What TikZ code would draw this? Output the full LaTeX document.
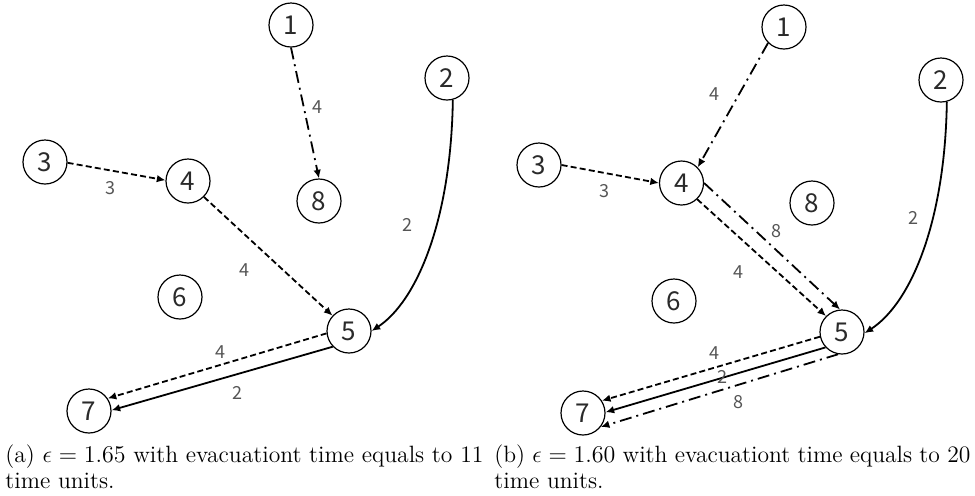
\documentclass[tikz,border=0pt]{standalone}
\usepackage{fontspec}
\newfontfamily\numfont{Noto Sans CJK SC}
\usetikzlibrary{arrows.meta}
\definecolor{nodetext}{HTML}{2A2A2A}
\definecolor{labtext}{HTML}{555555}
\tikzset{
  vtx/.style={circle,draw=black,line width=0.6pt,minimum size=22pt,inner sep=0pt,
    font=\numfont\fontsize{13}{14}\selectfont,text=nodetext},
  lab/.style={font=\numfont\fontsize{9}{10}\selectfont,text=labtext,inner sep=0pt},
  conn/.style={line width=0.9pt,-{Latex[length=4.3pt,width=3.8pt]}},
  dsh/.style={conn,dash pattern=on 3pt off 1.6pt},
  dshdot/.style={conn,dash pattern=on 6pt off 2.5pt on 1pt off 2.5pt},
  captext/.style={anchor=base west,inner sep=0pt,font=\fontsize{11.8}{13}\selectfont}
}
\begin{document}
\begin{tikzpicture}[x=0.5pt,y=-0.5pt]
\useasboundingbox (0,0) rectangle (975,495);
% ---------- panel (a) ----------
\node[vtx] (a1) at (291,25) {1};
\node[vtx] (a2) at (447,78) {2};
\node[vtx] (a3) at (45,162) {3};
\node[vtx] (a4) at (188,181) {4};
\node[vtx] (a8) at (319,201) {8};
\node[vtx] (a6) at (180,297) {6};
\node[vtx] (a5) at (349,331) {5};
\node[vtx] (a7) at (89,411) {7};
\draw[dshdot] (a1.-90) -- (a8.90);
\draw[dsh] (a3.-2) -- (a4.178);
\draw[dsh] (a4.-45) -- (a5.137);
\draw[conn] (a2.-75) .. controls (451,220) and (417,301) .. (a5.east);
\draw[dsh] (a5.186) -- (a7.34);
\draw[conn] (a5.224) -- (a7.2);
\node[lab] (la1) at (317,107) {4};
\node[lab] (la2) at (110,188) {3};
\node[lab] (la3) at (407,225) {2};
\node[lab] (la4) at (244,270) {4};
\node[lab] (la5) at (220,352) {4};
\node[lab] (la6) at (237,393) {2};
\node[captext] (capa1) at (5,462) {\makebox[239pt][s]{(a) $\epsilon = 1.65$ with evacuationt time equals to 11}};
\node[captext] (capa2) at (5,488) {time units.};
% ---------- panel (b) ----------
\node[vtx] (b1) at (784,27) {1};
\node[vtx] (b2) at (941,80) {2};
\node[vtx] (b3) at (539,165) {3};
\node[vtx] (b4) at (681.5,183) {4};
\node[vtx] (b8) at (812,203) {8};
\node[vtx] (b6) at (674,301) {6};
\node[vtx] (b5) at (842,332) {5};
\node[vtx] (b7) at (583,413) {7};
\draw[dshdot] (b1.225) -- (b4.44);
\draw[dsh] (b3.0) -- (b4.180);
\draw[dsh] (b4.-46) -- (b5.135);
\draw[dshdot] (b4.0) -- (b5.95);
\draw[conn] (b2.-75) .. controls (945,222) and (911,303) .. (b5.-3);
\draw[dsh] (b5.192) -- (b7.33);
\draw[conn] (b5.223) -- (b7.2);
\draw[dshdot] (b5.260) -- (b7.-38);
\node[lab] (lb1) at (714,94) {4};
\node[lab] (lb2) at (604,191) {3};
\node[lab] (lb3) at (776,231) {8};
\node[lab] (lb4) at (913,218) {2};
\node[lab] (lb5) at (738,272) {4};
\node[lab] (lb6) at (714,353) {4};
\node[lab] (lb7) at (722,377) {2};
\node[lab] (lb8) at (738,402) {8};
\node[captext] (capb1) at (494,462) {\makebox[238pt][s]{(b) $\epsilon = 1.60$ with evacuationt time equals to 20}};
\node[captext] (capb2) at (494,488) {time units.};
\end{tikzpicture}
\end{document}
